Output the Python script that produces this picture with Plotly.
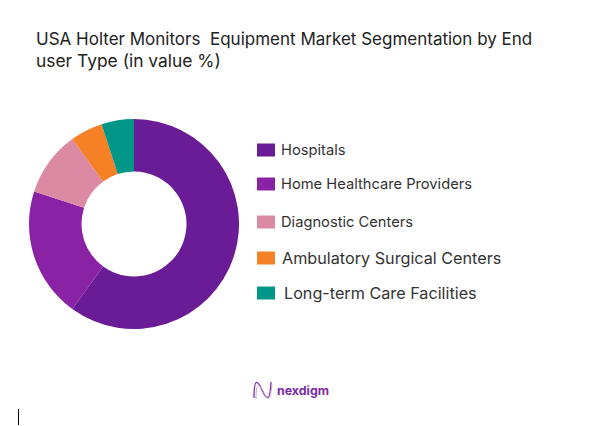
import plotly.graph_objects as go

W = 597
H = 426

labels = ["Hospitals", "Home Healthcare Providers", "Diagnostic Centers",
          "Ambulatory Surgical Centers", "Long-term Care Facilities"]
values = [60, 20, 10, 5, 5]
colors = ["#6A1B96", "#8A22A6", "#DC89A4", "#F58025", "#009688"]

title_lines = ["USA Holter Monitors  Equipment Market Segmentation by End",
               "user Type (in value %)"]
logo_text = "nexdigm"

FONT = "Inter"

# legend is placed by hand, the rows in the source are not evenly spaced
swatch_x = [257, 257, 257, 257, 257]
text_x = [279, 279, 279, 280, 282]
row_y = [150, 184, 222, 258, 293]
text_size = [14.7, 14.7, 14.7, 16.2, 16.2]
title_size = [17, 17.4]


def px(x):
    return x / W


def py(y):
    return 1 - y / H


fig = go.Figure()
fig.add_trace(go.Pie(
    labels=labels,
    values=values,
    hole=0.5,
    sort=False,
    direction="clockwise",
    rotation=0,
    marker=dict(colors=colors, line=dict(width=0)),
    textinfo="none",
    showlegend=False,
    domain=dict(x=[px(29), px(239)], y=[py(329), py(119)]),
))

shapes = []
annotations = []

for i in range(len(labels)):
    shapes.append(dict(type="rect", xref="paper", yref="paper",
                       x0=px(swatch_x[i]), x1=px(swatch_x[i] + 18),
                       y0=py(row_y[i] - 6.5), y1=py(row_y[i] + 6.5),
                       fillcolor=colors[i], line=dict(width=0)))
    annotations.append(dict(text=labels[i], xref="paper", yref="paper",
                            x=px(text_x[i]), y=py(row_y[i]),
                            xanchor="left", yanchor="middle", showarrow=False,
                            font=dict(family=FONT, size=text_size[i], color="#333333")))

title_y = [39, 61]
for i in range(len(title_lines)):
    annotations.append(dict(text=title_lines[i], xref="paper", yref="paper",
                            x=px(34), y=py(title_y[i]),
                            xanchor="left", yanchor="middle", showarrow=False,
                            font=dict(family=FONT, size=title_size[i], color="#222222")))

annotations.append(dict(text="<b>" + logo_text + "</b>", xref="paper", yref="paper",
                        x=px(275), y=py(390), xanchor="left", yanchor="middle",
                        showarrow=False,
                        font=dict(family=FONT, size=12.4, color="#7B2CA8")))

# logo mark, two wavy strokes
shapes.append(dict(type="path", xref="paper", yref="paper",
                   path=f"M {px(254)} {py(398)} C {px(254)} {py(376)}, {px(258)} {py(381)}, {px(262)} {py(390)} "
                        f"S {px(270)} {py(404)}, {px(271)} {py(382)}",
                   line=dict(color="#7B2CA8", width=1.3)))
shapes.append(dict(type="path", xref="paper", yref="paper",
                   path=f"M {px(256)} {py(399)} C {px(256)} {py(379)}, {px(260)} {py(385)}, {px(264)} {py(393)} "
                        f"S {px(270)} {py(402)}, {px(272)} {py(384)}",
                   line=dict(color="#C9A3DC", width=1)))

# stray caret at the bottom left of the source image
shapes.append(dict(type="line", xref="paper", yref="paper",
                   x0=px(18.5), x1=px(18.5), y0=py(409), y1=py(425),
                   line=dict(color="#000000", width=1)))

fig.update_layout(
    width=W,
    height=H,
    margin=dict(l=0, r=0, t=0, b=0),
    paper_bgcolor="white",
    plot_bgcolor="white",
    shapes=shapes,
    annotations=annotations,
)

# drop the default page margin so the figure sits at the window corner
fig.write_html("out.html", config=dict(displayModeBar=False),
               post_script="document.body.style.margin = '0';")
